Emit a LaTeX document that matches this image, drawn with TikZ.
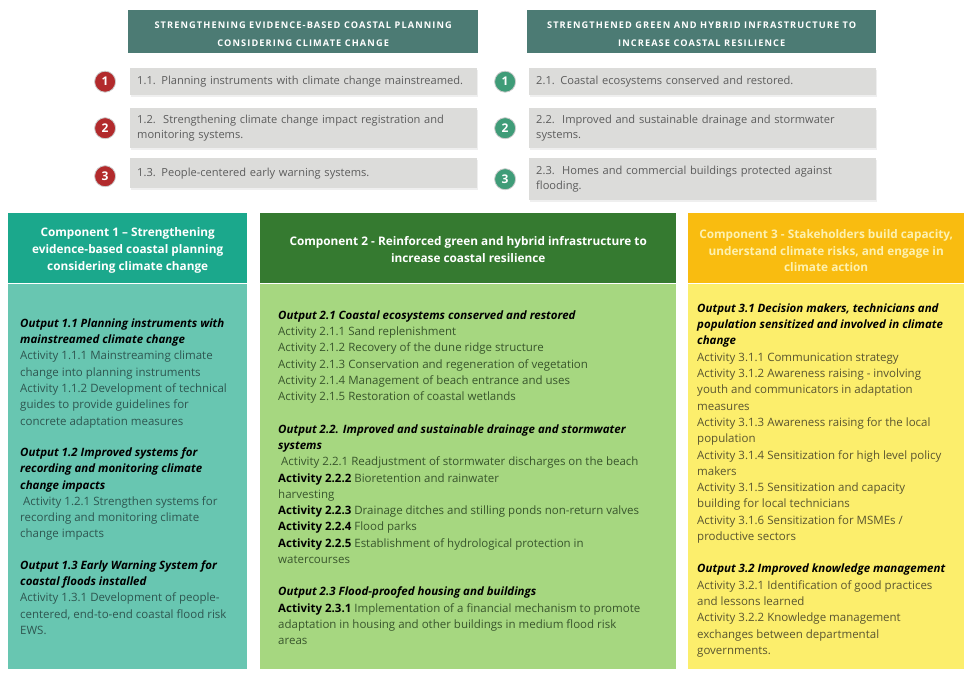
\documentclass[tikz,border=0pt]{standalone}
\usepackage{fontspec}
\setmainfont{Open Sans}
\newfontfamily\capsfont[LetterSpace=12]{Open Sans}
\usetikzlibrary{positioning,shadows}

\definecolor{slatebar}{HTML}{4C7B74}
\definecolor{itemgray}{HTML}{DCDCDA}
\definecolor{itemtext}{HTML}{5C5C5C}
\definecolor{numred}{HTML}{B22A2C}
\definecolor{numgreen}{HTML}{3F9C78}
\definecolor{tealhead}{HTML}{1BA88C}
\definecolor{tealbody}{HTML}{68C6B1}
\definecolor{tealtext}{HTML}{2E5650}
\definecolor{greenhead}{HTML}{357A30}
\definecolor{greenbody}{HTML}{A6D780}
\definecolor{greentext}{HTML}{38552C}
\definecolor{amberhead}{HTML}{F9BC10}
\definecolor{amberbody}{HTML}{FCEE6C}
\definecolor{ambertext}{HTML}{5A5530}
\definecolor{amberlabel}{HTML}{FDF1B0}

\newcommand{\outp}[1]{{\bfseries\itshape\color{black}#1}}
\newcommand{\actb}[1]{{\bfseries\color{black}#1}}

\begin{document}
\begin{tikzpicture}[x=1pt,y=-1pt,node distance=15pt]
\tikzstyle{topbar}=[rectangle,fill=slatebar,text=white,inner sep=0pt,minimum height=43pt,align=center,font=\capsfont\bfseries\fontsize{9.2}{18}\selectfont]
\tikzstyle{outitem}=[rectangle,fill=itemgray,text=itemtext,anchor=north west,inner xsep=7pt,inner ysep=2pt,align=left,text width=333pt,font=\fontsize{11.1}{15}\selectfont,drop shadow={opacity=0.12,shadow xshift=1pt,shadow yshift=-1.5pt}]
\tikzstyle{numdot}=[circle,text=white,draw=white!80!black,line width=0.8pt,inner sep=0pt,minimum size=21pt,font=\bfseries\fontsize{12}{12}\selectfont]
\tikzstyle{comphead}=[rectangle,anchor=north west,inner sep=0pt,minimum height=70pt,align=center,font=\bfseries\fontsize{11.8}{16.8}\selectfont]
\tikzstyle{compbody}=[rectangle,inner sep=0pt,minimum height=385pt]
\tikzstyle{bodytext}=[anchor=north west,inner sep=0pt,align=left,font=\fontsize{11.5}{16.3}\selectfont]
\useasboundingbox[fill=white] (0,0) rectangle (964,675);

% upper panel, left side
\node[topbar,anchor=north west,minimum width=350pt] (planbar) at (128,10) {\rule{0pt}{11pt}STRENGTHENING EVIDENCE-BASED COASTAL PLANNING\\CONSIDERING CLIMATE CHANGE};
\node[outitem,minimum height=27pt] (plan1) at (130,68) {1.1. Planning instruments with climate change mainstreamed.};
\node[outitem,minimum height=40pt] (plan2) at (130,108) {1.2. \,Strengthening climate change impact registration and\\monitoring systems.};
\node[outitem,minimum height=30pt] (plan3) at (130,158) {1.3. People-centered early warning systems.};
\node[numdot,fill=numred,left=14pt of plan1] (red1) {1};
\node[numdot,fill=numred,left=14pt of plan2] (red2) {2};
\node[numdot,fill=numred,left=14pt of plan3,yshift=-3pt] (red3) {3};

% upper panel, right side
\node[topbar,anchor=north west,minimum width=349pt] (greenbar) at (527,10) {\rule{0pt}{11pt}STRENGTHENED GREEN AND HYBRID INFRASTRUCTURE TO\\INCREASE COASTAL RESILIENCE};
\node[outitem,minimum height=27pt] (infra1) at (529,68) {2.1. Coastal ecosystems conserved and restored.};
\node[outitem,minimum height=40pt] (infra2) at (529,108) {2.2. \,Improved and sustainable drainage and stormwater\\systems.};
\node[outitem,minimum height=42pt] (infra3) at (529,158) {2.3. \,Homes and commercial buildings protected against\\flooding.};
\node[numdot,fill=numgreen,left=13pt of infra1] (grn1) {1};
\node[numdot,fill=numgreen,left=13pt of infra2] (grn2) {2};
\node[numdot,fill=numgreen,left=13pt of infra3] (grn3) {3};

% component 1
\node[comphead,fill=tealhead,text=white,minimum width=239pt] (comp1) at (8,213) {\rule{0pt}{14pt}Component 1 -- Strengthening\\evidence-based coastal planning\\considering climate change};
\node[compbody,fill=tealbody,minimum width=239pt,below=0pt of comp1] (body1) {};
\node[bodytext,text=tealtext] (list1) at ([xshift=12pt,yshift=-35pt]body1.north west) {%
\outp{Output 1.1 Planning instruments with}\\
\outp{mainstreamed climate change}\\
Activity 1.1.1 Mainstreaming climate\\
change into planning instruments\\
Activity 1.1.2 Development of technical\\
guides to provide guidelines for\\
concrete adaptation measures\\[15pt]
\outp{Output 1.2 Improved systems for}\\
\outp{recording and monitoring climate}\\
\outp{change impacts}\\
\hspace*{3pt}Activity 1.2.1 Strengthen systems for\\
recording and monitoring climate\\
change impacts\\[15pt]
\outp{Output 1.3 Early Warning System for}\\
\outp{coastal floods installed}\\
Activity 1.3.1 Development of people-\\
centered, end-to-end coastal flood risk\\
EWS.};

% component 2
\node[comphead,fill=greenhead,text=white,minimum width=416pt] (comp2) at (260,213) {\rule{0pt}{11pt}Component 2 - Reinforced green and hybrid infrastructure to\\increase coastal resilience};
\node[compbody,fill=greenbody,minimum width=416pt,below=0pt of comp2] (body2) {};
\node[bodytext,text=greentext] (list2) at ([xshift=18pt,yshift=-27pt]body2.north west) {%
\outp{Output 2.1 Coastal ecosystems conserved and restored}\\
Activity 2.1.1 Sand replenishment\\
Activity 2.1.2 Recovery of the dune ridge structure\\
Activity 2.1.3 Conservation and regeneration of vegetation\\
Activity 2.1.4 Management of beach entrance and uses\\
Activity 2.1.5 Restoration of coastal wetlands\\[16pt]
\outp{Output 2.2. Improved and sustainable drainage and stormwater}\\
\outp{systems}\\
\hspace*{3pt}Activity 2.2.1 Readjustment of stormwater discharges on the beach\\
\actb{Activity 2.2.2} Bioretention and rainwater\\
harvesting\\
\actb{Activity 2.2.3} Drainage ditches and stilling ponds non-return valves\\
\actb{Activity 2.2.4} Flood parks\\
\actb{Activity 2.2.5} Establishment of hydrological protection in\\
watercourses\\[16pt]
\outp{Output 2.3 Flood-proofed housing and buildings}\\
\actb{Activity 2.3.1} Implementation of a financial mechanism to promote\\
adaptation in housing and other buildings in medium flood risk\\
areas};

% component 3
\node[comphead,fill=amberhead,text=amberlabel,minimum width=276pt] (comp3) at (688,213) {\rule{0pt}{14pt}Component 3 - Stakeholders build capacity,\\understand climate risks, and engage in\\climate action};
\node[compbody,fill=amberbody,minimum width=276pt,below=0pt of comp3] (body3) {};
\node[bodytext,text=ambertext] (list3) at ([xshift=9pt,yshift=-20pt]body3.north west) {%
\outp{Output 3.1 Decision makers, technicians and}\\
\outp{population sensitized and involved in climate}\\
\outp{change}\\
Activity 3.1.1 Communication strategy\\
Activity 3.1.2 Awareness raising - involving\\
youth and communicators in adaptation\\
measures\\
Activity 3.1.3 Awareness raising for the local\\
population\\
Activity 3.1.4 Sensitization for high level policy\\
makers\\
Activity 3.1.5 Sensitization and capacity\\
building for local technicians\\
Activity 3.1.6 Sensitization for MSMEs /\\
productive sectors\\[16pt]
\outp{Output 3.2 Improved knowledge management}\\
Activity 3.2.1 Identification of good practices\\
and lessons learned\\
Activity 3.2.2 Knowledge management\\
exchanges between departmental\\
governments.};
\end{tikzpicture}
\end{document}
